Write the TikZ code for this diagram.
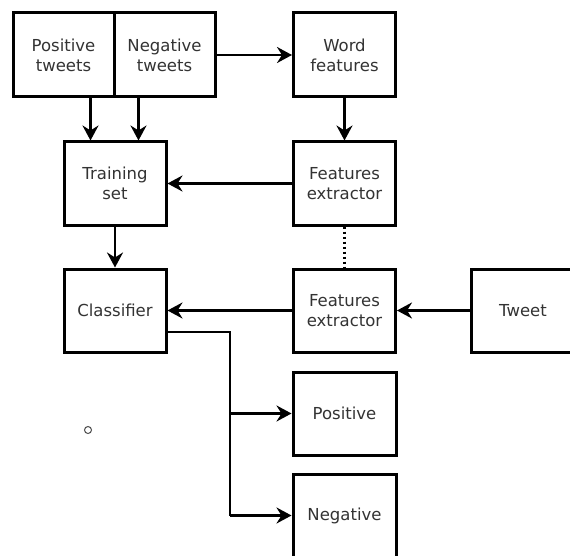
\documentclass[tikz,border=0pt]{standalone}
\usepackage{fontspec}
\setmainfont{DejaVu Sans}
\usetikzlibrary{arrows.meta,calc}
\definecolor{txt}{HTML}{333333}
\tikzset{
  box/.style={draw=black, line width=3pt, rectangle, inner sep=0pt, align=center,
    text=txt, font=\fontsize{16.5pt}{20pt}\selectfont},
  conn/.style={draw=black, line width=2.8pt},
  arr/.style={conn, -{Stealth[length=15pt,width=16pt,inset=5pt]}},
  dots/.style={draw=black, line width=2.4pt, dash pattern=on 2.5pt off 2.5pt}
}
\begin{document}
\begin{tikzpicture}[x=1pt,y=-1pt]
\clip (0,0) rectangle (570,556);
\fill[white] (0,0) rectangle (570,556);
\node[box, minimum width=101pt, minimum height=84pt] (pt) at (63.5,55) {Positive\\tweets};
\node[box, minimum width=101pt, minimum height=84pt] (nt) at (164.5,55) {Negative\\tweets};
\node[box, minimum width=102pt, minimum height=84pt] (wf) at (344.5,55) {Word\\features};
\node[box, minimum width=102pt, minimum height=83pt] (ts) at (115,183.5) {Training\\set};
\node[box, minimum width=102pt, minimum height=83pt] (fe1) at (344.5,183.5) {Features\\extractor};
\node[box, minimum width=102pt, minimum height=83pt] (cl) at (115,310.5) {Classifier};
\node[box, minimum width=102pt, minimum height=83pt] (fe2) at (344.5,310.5) {Features\\extractor};
\node[box, minimum width=104pt, minimum height=83pt] (tw) at (523,310.5) {Tweet};
\node[box, minimum width=103pt, minimum height=83pt] (pos) at (344.5,413.5) {Positive};
\node[box, minimum width=103pt, minimum height=83pt] (neg) at (344.5,515.5) {Negative};

\draw[arr] ([xshift=-25pt]pt.south east) coordinate (a1) -- (a1 |- ts.north);
\draw[arr] ([xshift=26pt]nt.south west) coordinate (a2) -- (a2 |- ts.north);
\draw[arr] (nt.east) -- (wf.west);
\draw[arr] (wf.south) -- (fe1.north);
\draw[arr] (fe1.west) -- (ts.east);
\draw[arr] (ts.south) -- (cl.north);
\draw[dots] (fe1.south) -- (fe2.north);
\draw[arr] (fe2.west) -- (cl.east);
\draw[arr] (tw.west) -- (fe2.east);
\coordinate (j) at (230,332);
\draw[conn] ([yshift=-21.5pt]cl.east) -- (j) -- (j |- neg.west);
\draw[arr] (j |- pos.west) -- (pos.west);
\draw[arr] (j |- neg.west) -- (neg.west);
\node[draw=black!70, line width=1pt, circle, minimum size=7pt, inner sep=0pt] (dot) at (88,430) {};
\end{tikzpicture}
\end{document}
